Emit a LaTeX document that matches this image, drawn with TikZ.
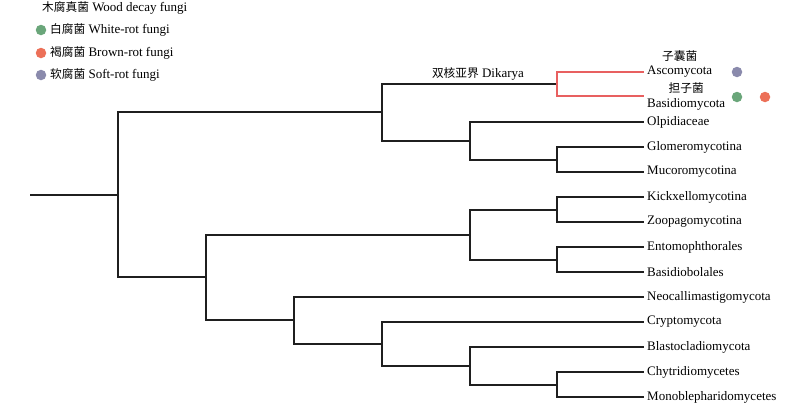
\documentclass[tikz,border=0pt]{standalone}
\usepackage{fontspec}
\setmainfont{Liberation Serif}
\newfontfamily\cjk[Scale=0.9]{Noto Sans CJK SC}
\definecolor{wrot}{RGB}{106,166,122}
\definecolor{brot}{RGB}{236,112,88}
\definecolor{srot}{RGB}{138,138,172}
\definecolor{dkred}{RGB}{232,96,96}
\begin{document}
\begin{tikzpicture}[x=1pt,y=-1pt,
  txt/.style={font=\fontsize{13}{15}\selectfont, inner sep=0pt},
  leaf/.style={txt, anchor=west, inner xsep=3pt},
  branch/.style={line width=2pt, black!88},
  redbranch/.style={line width=1.6pt, dkred},
  dot/.style={circle, inner sep=0pt, minimum size=10.5pt}]
\useasboundingbox (0,0) rectangle (800,405);
% legend
\node[txt, anchor=west] (lt) at (42,8) {{\cjk 木腐真菌} Wood decay fungi};
\node[dot, fill=wrot] (ld1) at (41,30) {};
\node[dot, fill=brot] (ld2) at (41,53) {};
\node[dot, fill=srot] (ld3) at (41,75) {};
\node[txt, anchor=west] (l1) at (50,30) {{\cjk 白腐菌} White-rot fungi};
\node[txt, anchor=west] (l2) at (50,53) {{\cjk 褐腐菌} Brown-rot fungi};
\node[txt, anchor=west] (l3) at (50,75) {{\cjk 软腐菌} Soft-rot fungi};
% leaves
\node[leaf] (asco) at (644,72) {Ascomycota};
\node[txt] (ascocn) at (asco.center |- 0,56) {\cjk 子囊菌};
\node[leaf] (basi) at (644,96) {\phantom{B}};
\node[leaf] (basitxt) at (644,104) {Basidiomycota};
\node[txt] (basicn) at (basitxt.center |- 0,88) {\cjk 担子菌};
\node[leaf] (olp) at (644,122) {Olpidiaceae};
\node[leaf] (glo) at (644,147) {Glomeromycotina};
\node[leaf] (muc) at (644,172) {Mucoromycotina};
\node[leaf] (kic) at (644,197) {Kickxellomycotina};
\node[leaf] (zoo) at (644,222) {Zoopagomycotina};
\node[leaf] (ent) at (644,247) {Entomophthorales};
\node[leaf] (bab) at (644,272) {Basidiobolales};
\node[leaf] (neo) at (644,297) {Neocallimastigomycota};
\node[leaf] (cry) at (644,322) {Cryptomycota};
\node[leaf] (bla) at (644,347) {Blastocladiomycota};
\node[leaf] (chy) at (644,372) {Chytridiomycetes};
\node[leaf] (mon) at (644,397) {Monoblepharidomycetes};
% dots at leaves
\node[dot, fill=srot] (d1) at (737,72) {};
\node[dot, fill=wrot] (d2) at (737,97) {};
\node[dot, fill=brot] (d3) at (765,97) {};
% internal nodes
\coordinate (start) at (30,195);
\coordinate (root) at (118,195);
\coordinate (A) at (382,112);
\coordinate (Dik) at (557,84);
\coordinate (B) at (470,141);
\coordinate (C) at (557,160);
\coordinate (L) at (206,277);
\coordinate (H) at (470,235);
\coordinate (I) at (557,210);
\coordinate (J) at (557,260);
\coordinate (D) at (294,320);
\coordinate (E) at (382,344);
\coordinate (F) at (470,366);
\coordinate (G) at (557,385);
% branches
\draw[branch] (start) -- (root);
\draw[branch] (root) |- (A);
\draw[branch] (root) |- (L);
\draw[branch] (A) |- (Dik);
\draw[branch] (A) |- (B);
\draw[redbranch] (Dik) |- (asco.west);
\draw[redbranch] (Dik) |- (basi.west);
\draw[branch] (B) |- (olp.west);
\draw[branch] (B) |- (C);
\draw[branch] (C) |- (glo.west);
\draw[branch] (C) |- (muc.west);
\draw[branch] (L) |- (H);
\draw[branch] (L) |- (D);
\draw[branch] (H) |- (I);
\draw[branch] (H) |- (J);
\draw[branch] (I) |- (kic.west);
\draw[branch] (I) |- (zoo.west);
\draw[branch] (J) |- (ent.west);
\draw[branch] (J) |- (bab.west);
\draw[branch] (D) |- (neo.west);
\draw[branch] (D) |- (E);
\draw[branch] (E) |- (cry.west);
\draw[branch] (E) |- (F);
\draw[branch] (F) |- (bla.west);
\draw[branch] (F) |- (G);
\draw[branch] (G) |- (chy.west);
\draw[branch] (G) |- (mon.west);
% Dikarya label
\node[txt] (dikl) at (478,74) {{\cjk 双核亚界} Dikarya};
\end{tikzpicture}
\end{document}
